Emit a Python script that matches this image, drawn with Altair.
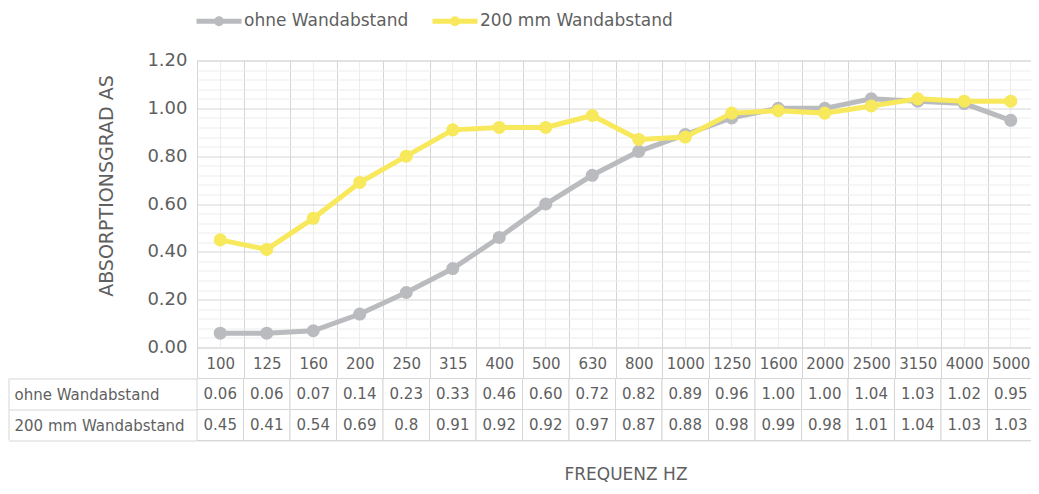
import altair as alt
import pandas as pd

# ---------------- data ----------------
frequencies = ["100", "125", "160", "200", "250", "315", "400", "500", "630",
               "800", "1000", "1250", "1600", "2000", "2500", "3150", "4000", "5000"]
ohne_wandabstand = [0.06, 0.06, 0.07, 0.14, 0.23, 0.33, 0.46, 0.60, 0.72,
                    0.82, 0.89, 0.96, 1.00, 1.00, 1.04, 1.03, 1.02, 0.95]
wandabstand_200mm = [0.45, 0.41, 0.54, 0.69, 0.80, 0.91, 0.92, 0.92, 0.97,
                     0.87, 0.88, 0.98, 0.99, 0.98, 1.01, 1.04, 1.03, 1.03]
series_names = ["ohne Wandabstand", "200 mm Wandabstand"]
series_colors = ["#b9bbbe", "#f7e85c"]
y_major_ticks = [0.0, 0.2, 0.4, 0.6, 0.8, 1.0, 1.2]
y_minor_ticks = [0.04, 0.08, 0.12, 0.16, 0.24, 0.28, 0.32, 0.36, 0.44, 0.48, 0.52,
                 0.56, 0.64, 0.68, 0.72, 0.76, 0.84, 0.88, 0.92, 0.96, 1.04, 1.08,
                 1.12, 1.16]

rows = []
for f, a, b in zip(frequencies, ohne_wandabstand, wandabstand_200mm):
    rows.append({"freq": f, "series": series_names[0], "value": a})
    rows.append({"freq": f, "series": series_names[1], "value": b})
df = pd.DataFrame(rows)

# ---------------- style ----------------
FONT = "DejaVu Sans"
TEXT = "#5f5f5f"
GRID = "#d6d6d6"
MINOR = "#ededed"
W = 837
H = 287
TABLE_H = 62
LABEL_COL = 188

legend_symbol = ("M-1,0H1M0.111,0A0.111,0.111,0,1,1,-0.111,0"
                 "A0.111,0.111,0,1,1,0.111,0")

x_scale = alt.Scale(domain=frequencies, paddingInner=0, paddingOuter=0)
y_scale = alt.Scale(domain=[0, 1.2], nice=False)
color_scale = alt.Scale(domain=series_names, range=series_colors)

major_x_axis = alt.Axis(orient="bottom", title=None, domain=False, grid=True,
                        gridColor=GRID, tickBand="extent", tickSize=31,
                        tickColor=GRID, labelPadding=-15, labelBaseline="middle",
                        labelAngle=0, labelFont=FONT, labelFontSize=15,
                        labelColor=TEXT, labelOverlap=False)
major_y_axis = alt.Axis(orient="left", values=y_major_ticks, format=".2f",
                        grid=True, gridColor=GRID, ticks=False, domain=False,
                        labelFont=FONT, labelFontSize=18, labelColor=TEXT,
                        labelPadding=10, title="ABSORPTIONSGRAD AS",
                        titleFont=FONT, titleFontSize=19, titleFontWeight="normal",
                        titleColor=TEXT, titlePadding=30, titleY=125)

legend = alt.Legend(orient="none", legendX=-3, legendY=-64.5, direction="horizontal",
                    title=None, symbolType=legend_symbol, symbolSize=2025,
                    symbolStrokeWidth=5, symbolOpacity=1, labelFont=FONT,
                    labelFontSize=17, labelColor=TEXT, labelOffset=0,
                    columnPadding=13, labelLimit=400)

base = alt.Chart(df)

minor_grid = base.mark_point(opacity=0).encode(
    x=alt.X("freq:N", scale=x_scale, sort=frequencies,
            axis=alt.Axis(orient="bottom", title=None, grid=True, gridColor=MINOR,
                          labels=False, ticks=False, domain=False)),
    y=alt.Y("value:Q", scale=y_scale,
            axis=alt.Axis(orient="left", title=None, values=y_minor_ticks, grid=True,
                          gridColor=MINOR, labels=False, ticks=False, domain=False)),
)


def series_layer(name):
    return base.transform_filter(alt.datum.series == name).mark_line(
        strokeWidth=5,
        point=alt.OverlayMarkDef(filled=True, size=170, opacity=1),
    ).encode(
        x=alt.X("freq:N", scale=x_scale, sort=frequencies, axis=major_x_axis),
        y=alt.Y("value:Q", scale=y_scale, axis=major_y_axis),
        color=alt.Color("series:N", scale=color_scale, legend=legend),
    )


lines = alt.layer(series_layer(series_names[0]), series_layer(series_names[1]))
line_chart = alt.layer(minor_grid, lines).resolve_axis(
    x="independent", y="independent").properties(width=W, height=H)

# ---------------- table ----------------
table_base = alt.Chart(df).transform_calculate(
    label="datum.series === 'ohne Wandabstand' ? format(datum.value, '.2f') "
          ": format(datum.value, '.2~f')")

t_x_scale = alt.Scale(domain=frequencies, paddingInner=0, paddingOuter=0)
t_y_scale = alt.Scale(domain=series_names, paddingInner=0, paddingOuter=0)

cells = table_base.mark_rect(fill="white", stroke=GRID, strokeWidth=1).encode(
    x=alt.X("freq:N", scale=t_x_scale, sort=frequencies,
            axis=alt.Axis(title="FREQUENZ HZ", labels=False, ticks=False,
                          domain=False, titleFont=FONT, titleFontSize=17,
                          titleFontWeight="normal", titleColor=TEXT,
                          titlePadding=26, titleX=W / 2 + 10)),
    y=alt.Y("series:N", scale=t_y_scale, sort=series_names,
            axis=alt.Axis(title=None, labelAlign="left", labelPadding=-5,
                          tickBand="extent", tickSize=LABEL_COL, tickColor=GRID,
                          domain=False, labelFont=FONT, labelFontSize=15,
                          labelColor=TEXT, labelLimit=300)),
)
values = table_base.mark_text(font=FONT, fontSize=15, color=TEXT).encode(
    x=alt.X("freq:N", scale=t_x_scale, sort=frequencies),
    y=alt.Y("series:N", scale=t_y_scale, sort=series_names),
    text="label:N",
)
border = alt.Chart(pd.DataFrame({"edge": [0]})).mark_rule(
    color=GRID, strokeWidth=1).encode(
    x=alt.value(-LABEL_COL), y=alt.value(0), y2=alt.value(TABLE_H))

table_chart = alt.layer(cells, values, border).properties(width=W, height=TABLE_H)

chart = alt.vconcat(line_chart, table_chart, spacing=31, bounds="flush").properties(
    padding={"left": 0, "top": -12.5, "right": -4, "bottom": 0}
).configure_view(stroke="transparent").configure(font=FONT)

chart.save("out.html", embed_options={"renderer": "svg", "actions": False})
